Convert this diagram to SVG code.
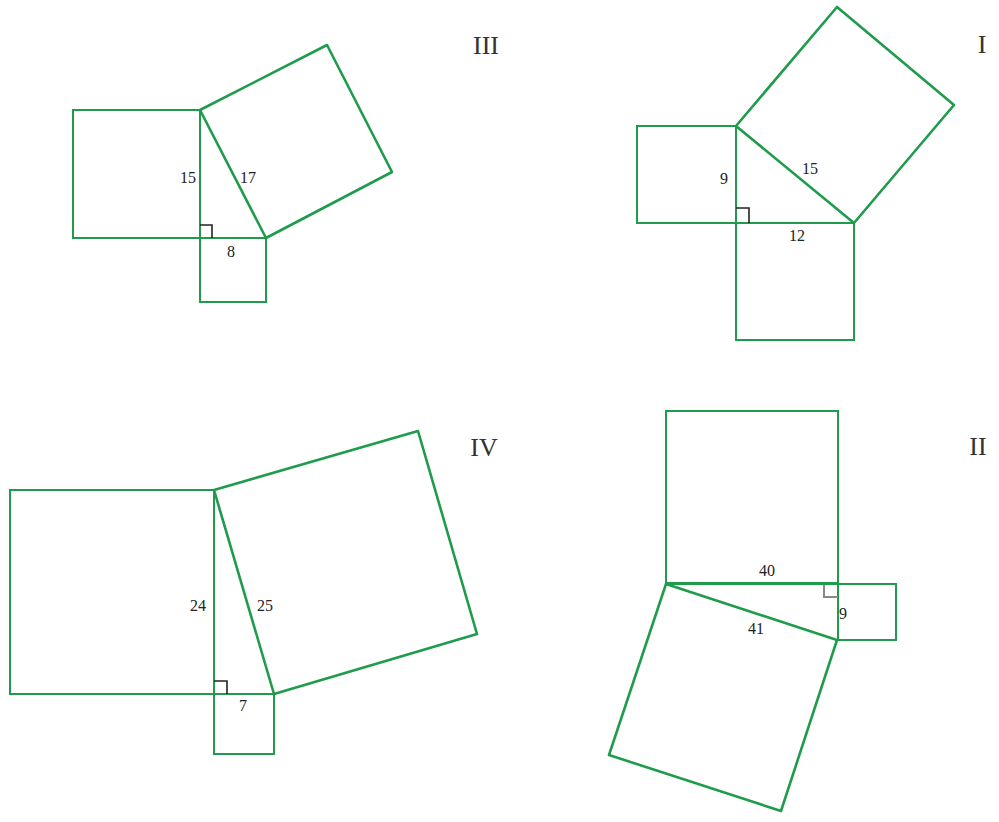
<svg xmlns="http://www.w3.org/2000/svg" width="999" height="822" viewBox="0 0 999 822">
<style>
.sq{fill:none;stroke:#1e9c4c;stroke-width:2}
.hs{fill:none;stroke:#1e9c4c;stroke-width:2.6;stroke-linejoin:round}
.ra{fill:none;stroke:#222;stroke-width:1.6}
.lb{font-family:"Liberation Serif",serif;font-size:16px;fill:#222;text-anchor:middle}
.rn{font-family:"Liberation Serif",serif;font-size:26px;fill:#333;text-anchor:middle}
</style>
<rect width="999" height="822" fill="#fff"/>
<g id="fig-III">
<rect class="sq" x="73" y="110" width="127" height="128"/>
<rect class="sq" x="200" y="238" width="66" height="64"/>
<polygon class="hs" points="200,110 327,45 392,172 266,238"/>
<path class="ra" d="M200,225 H212 V238"/>
<text class="lb" x="188" y="183">15</text>
<text class="lb" x="248" y="183">17</text>
<text class="lb" x="231" y="257">8</text>
<text class="rn" x="486" y="54">III</text>
</g>
<g id="fig-I">
<rect class="sq" x="637" y="126" width="99" height="97"/>
<rect class="sq" x="736" y="223" width="118" height="117"/>
<polygon class="hs" points="736,126 837,7 954,105 854,223"/>
<path class="ra" d="M736,208 H749 V223"/>
<text class="lb" x="724" y="184">9</text>
<text class="lb" x="810" y="174">15</text>
<text class="lb" x="797" y="241">12</text>
<text class="rn" x="982" y="53">I</text>
</g>
<g id="fig-IV">
<rect class="sq" x="10" y="490" width="204" height="204"/>
<rect class="sq" x="214" y="694" width="60" height="60"/>
<polygon class="hs" points="214,490 418,431 477,634 274,694"/>
<path class="ra" d="M214,681 H227 V694"/>
<text class="lb" x="198" y="611">24</text>
<text class="lb" x="265" y="611">25</text>
<text class="lb" x="243" y="711">7</text>
<text class="rn" x="484" y="456">IV</text>
</g>
<g id="fig-II">
<rect class="sq" x="666" y="411" width="172" height="172"/>
<rect class="sq" x="838" y="584" width="58" height="56"/>
<line x1="666" y1="583.5" x2="838" y2="583.5" stroke="#1e9c4c" stroke-width="3"/>
<polygon class="hs" points="666,584 837,640 781,811 609,755"/>
<path d="M824,585 V597 H838" fill="none" stroke="#888" stroke-width="2"/>
<text class="lb" x="767" y="576">40</text>
<text class="lb" x="756" y="634">41</text>
<text class="lb" x="843" y="619">9</text>
<text class="rn" x="978" y="455">II</text>
</g>
</svg>
